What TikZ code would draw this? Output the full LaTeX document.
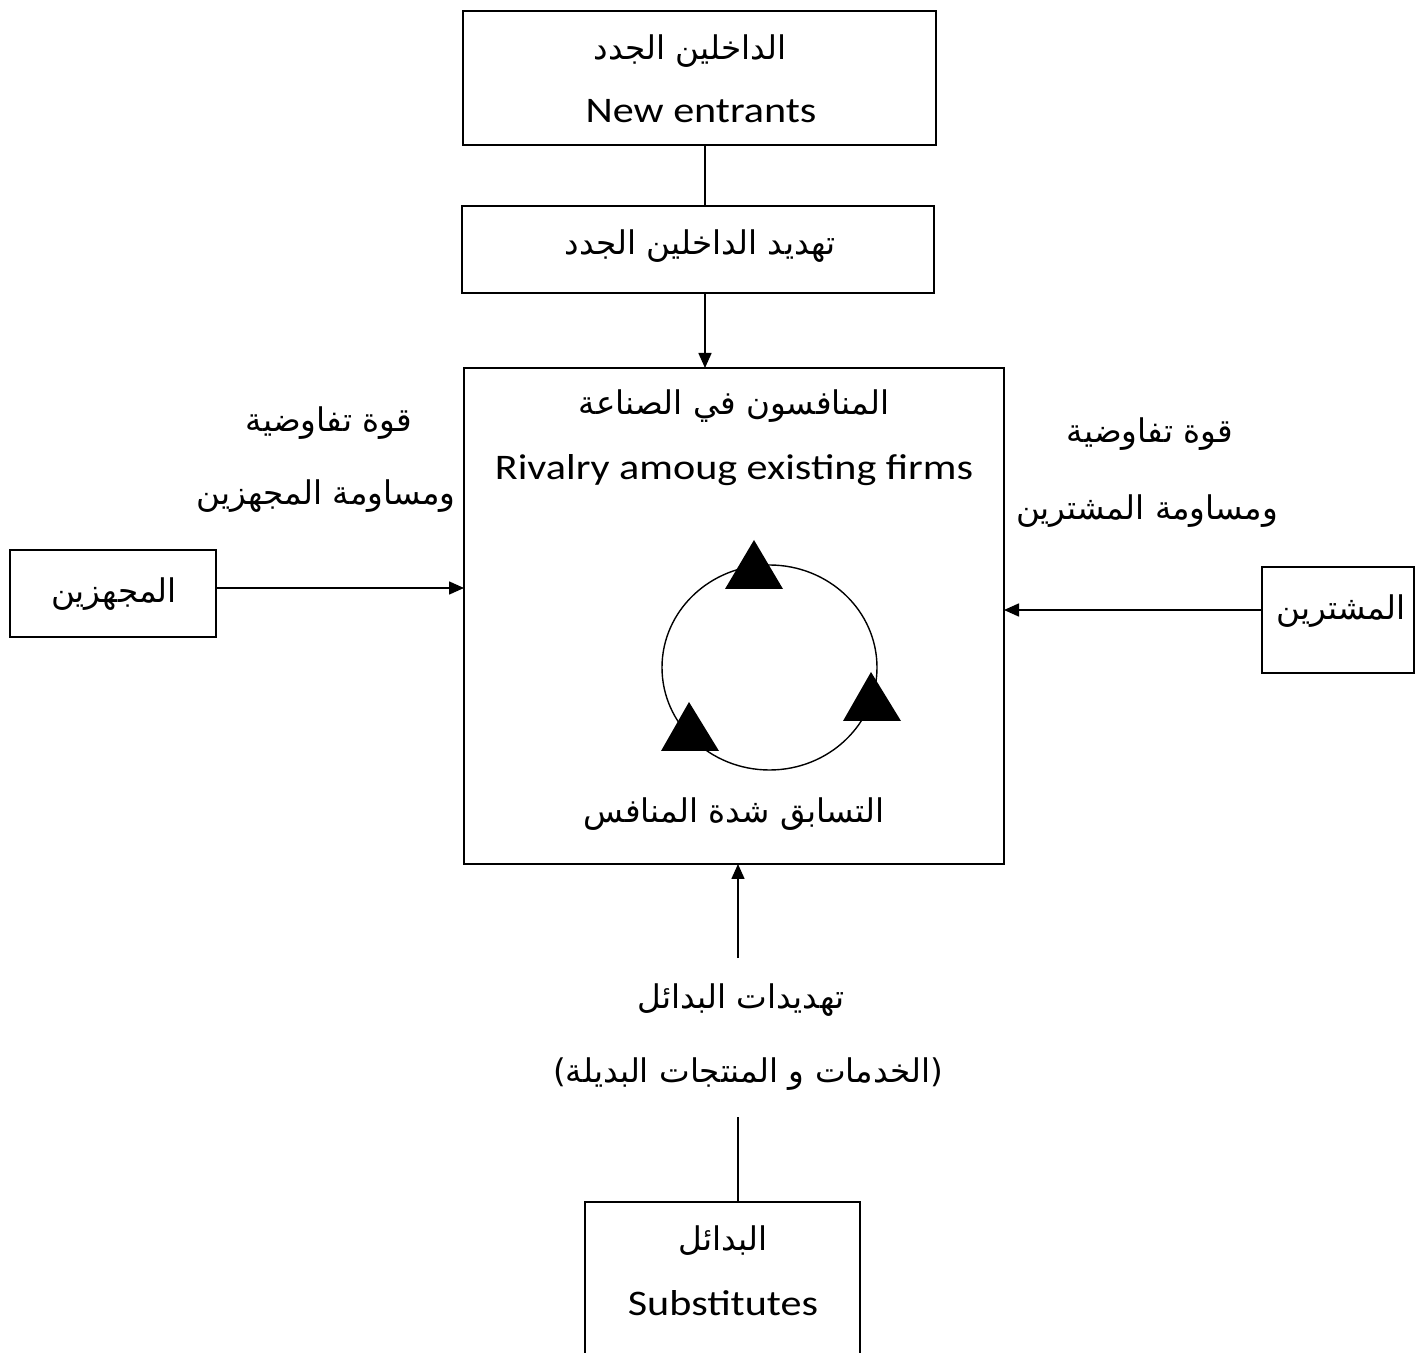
\documentclass[tikz,border=0pt]{standalone}
\usepackage{fontspec}
\setmainfont{Carlito}[FakeStretch=1.17]
\newfontfamily\arabicfont[Script=Arabic]{DejaVu Sans}
\TeXXeTstate=1
\usetikzlibrary{arrows.meta,shapes.geometric}
% right-to-left Arabic run
\newcommand{\arabtxt}[1]{{\arabicfont\beginR #1\endR}}

\begin{document}
\begin{tikzpicture}[
  x=0.5pt, y=-0.5pt,
  box/.style={draw, line width=1pt, inner sep=0pt, outer sep=0pt},
  en/.style={anchor=base, inner sep=0pt, font=\fontsize{18pt}{22pt}\selectfont},
  arb/.style={anchor=base, inner sep=0pt, font=\arabicfont\fontsize{16.3pt}{20pt}\selectfont},
  link/.style={line width=0.8pt},
  arrow/.style={link, -{Triangle[length=7.5pt,width=6.5pt]}}
]
\useasboundingbox (0,0) rectangle (1421,1353);
\clip (0,0) rectangle (1421,1353);

% ---- boxes ----
\node[box, minimum width=236.5pt, minimum height=67pt]  (ne)  at (699.5,78)   {};
\node[box, minimum width=236pt,   minimum height=43.5pt] (thr) at (698,249.5)  {};
\node[box, minimum width=270pt,   minimum height=248pt]  (riv) at (734,616)    {};
\node[box, minimum width=103pt,   minimum height=43.5pt] (sup) at (113,593.5)  {};
\node[box, minimum width=76pt,    minimum height=53pt]   (buy) at (1338,620)   {};
\node[box, minimum width=137.5pt, minimum height=88pt]   (sub) at (722.5,1290) {};

% ---- texts ----
\node[arb] (neA)  at (690,60)   {\arabtxt{الداخلين الجدد}};
\node[en]  (neE)  at (701,123)  {New entrants};
\node[arb] (thrA) at (700,255)  {\arabtxt{تهديد الداخلين الجدد}};
\node[arb] (rivA) at (734,415)  {\arabtxt{المنافسون في الصناعة}};
\node[en]  (rivE) at (734,480)  {Rivalry amoug existing firms};
\node[arb] (rivB) at (734,823)  {\arabtxt{التسابق شدة المنافس}};
\node[arb] (supA) at (114,603)  {\arabtxt{المجهزين}};
\node[arb] (buyA) at (1341,620) {\arabtxt{المشترين}};
\node[arb] (lab1) at (329,432)  {\arabtxt{قوة تفاوضية}};
\node[arb] (lab2) at (326,505)  {\arabtxt{ومساومة المجهزين}};
\node[arb] (lab3) at (1150,443) {\arabtxt{قوة تفاوضية}};
\node[arb] (lab4) at (1147,520) {\arabtxt{ومساومة المشترين}};
\node[arb] (lab5) at (741,1008) {\arabtxt{تهديدات البدائل}};
% the Arabic font mirrors the brackets, so they are given in visual order
\node[arb] (lab6) at (748,1082) {)\arabtxt{الخدمات و المنتجات البديلة}(};
\node[arb] (subA) at (723,1250) {\arabtxt{البدائل}};
\node[en]  (subE) at (723,1315) {Substitutes};

% ---- rivalry ring ----
\node[draw, ellipse, line width=0.7pt, minimum width=107.5pt, minimum height=102.5pt, inner sep=0pt] (ring) at (769.5,667.5) {};
\fill (754,540) -- (725,589) -- (783,589) -- cycle;
\fill (871,672) -- (843,721) -- (901,721) -- cycle;
\fill (689,702) -- (661,751) -- (719,751) -- cycle;

% ---- connectors ----
\coordinate (cx) at (705,0);
\coordinate (bx) at (738,0);
\coordinate (ly) at (0,588);
\coordinate (ry) at (0,610);
\coordinate (bt) at (738,958);
\coordinate (bb) at (738,1117);
\draw[link]  (ne.south -| cx) -- (thr.north -| cx);
\draw[arrow] (thr.south -| cx) -- (riv.north -| cx);
\draw[arrow] (sup.east |- ly) -- (riv.west |- ly);
\draw[arrow] (buy.west |- ry) -- (riv.east |- ry);
\draw[arrow] (bt) -- (riv.south -| bx);
\draw[link]  (sub.north -| bx) -- (bb);
\end{tikzpicture}
\end{document}
